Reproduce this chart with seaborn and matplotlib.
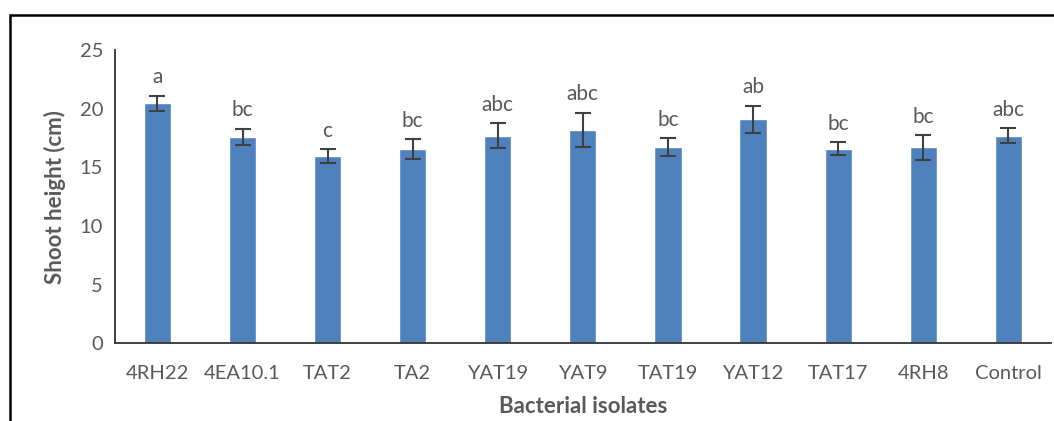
import pandas as pd
import numpy as np
import seaborn as sns
import matplotlib.pyplot as plt
from matplotlib.patches import Rectangle

# Dados
isolados = ['4RH22', '4EA10.1', 'TAT2', 'TA2', 'YAT19', 'YAT9', 'TAT19', 'YAT12', 'TAT17', '4RH8', 'Control']
altura = [20.45, 17.6, 15.95, 16.55, 17.7, 18.2, 16.75, 19.1, 16.6, 16.7, 17.7]
erro = [0.65, 0.7, 0.6, 0.85, 1.05, 1.45, 0.75, 1.15, 0.55, 1.05, 0.65]
letras = ['a', 'bc', 'c', 'bc', 'abc', 'abc', 'bc', 'ab', 'bc', 'bc', 'abc']

df = pd.DataFrame({'Isolado': isolados, 'Altura': altura, 'Erro': erro, 'Letra': letras})

sns.set_style('white')
plt.rcParams['font.family'] = ['Lato', 'DejaVu Sans']

cinza = '#595959'
fig = plt.figure(figsize=(10.54, 4.21), dpi=100)
ax = fig.add_axes([0.109, 0.185, 0.888, 0.696])

sns.barplot(data=df, x='Isolado', y='Altura', color='#4F81BD', width=0.32,
            saturation=1, errorbar=None, ax=ax)
ax.errorbar(x=np.arange(len(df)), y=df['Altura'], yerr=df['Erro'], fmt='none',
            ecolor='#404040', elinewidth=1.5, capsize=5.5, capthick=1.5)

# Letras de significância
for i, row in df.iterrows():
    ax.annotate(row['Letra'], (i, row['Altura'] + row['Erro']), xytext=(0, 6),
                textcoords='offset points', ha='center', va='bottom',
                fontsize=15, color=cinza)

ax.set_ylim(0, 25)
ax.set_yticks([0, 5, 10, 15, 20, 25])
ax.set_xlim(-0.5, len(df) - 0.5)
ax.set_xlabel('Bacterial isolates', fontsize=16, fontweight='bold', color=cinza, labelpad=10)
ax.set_ylabel('Shoot height (cm)', fontsize=16, fontweight='bold', color=cinza, labelpad=10)
ax.tick_params(axis='both', labelsize=14.5, colors=cinza, direction='out', length=5, width=1.2)
ax.tick_params(axis='x', pad=11)
ax.tick_params(axis='both', color='#333333')
sns.despine(ax=ax)
for s in ['left', 'bottom']:
    ax.spines[s].set_color('#333333')
    ax.spines[s].set_linewidth(1.3)

# Moldura externa
fig.patches.append(Rectangle((10 / 1054, -0.1), 1.2, 1.1 - 15 / 421, transform=fig.transFigure,
                             fill=False, edgecolor='black', linewidth=1.8))

fig.savefig('out.png', dpi=100)
